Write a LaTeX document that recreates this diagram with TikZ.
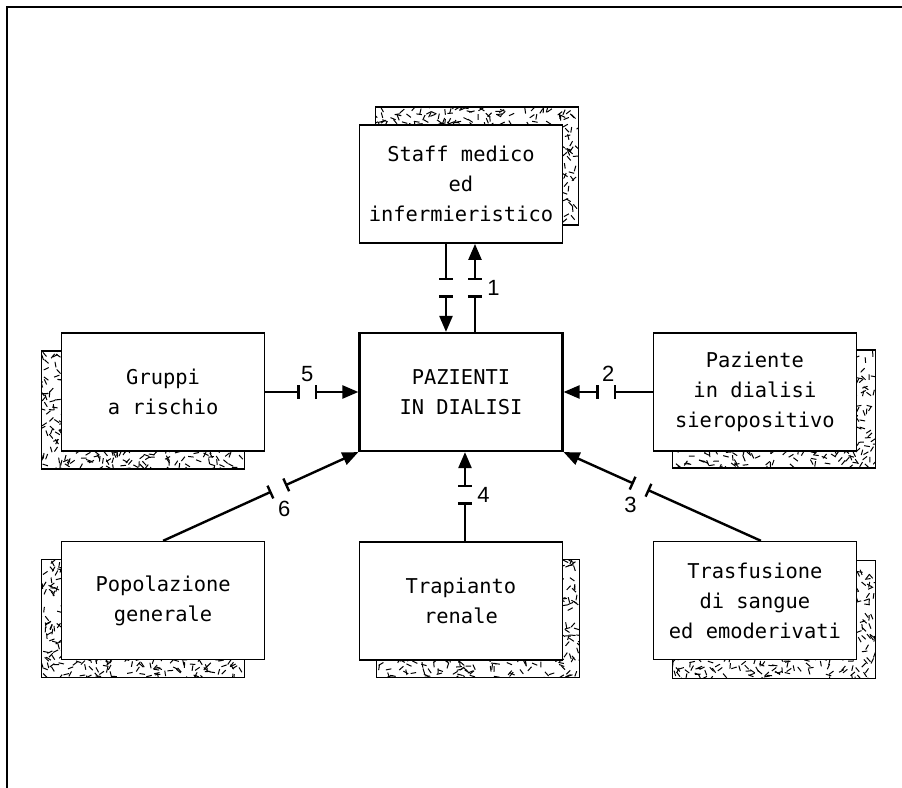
\documentclass[tikz,border=0pt]{standalone}
\usepackage{fontspec}
\setmonofont{DejaVu Sans Mono}
\newfontfamily\numfont{Liberation Sans}
\usepackage{tikz}
\usetikzlibrary{arrows.meta,positioning,calc,backgrounds}

% hatched shadow behind a box: node, x offset, y offset
\newcommand{\ombra}[3]{%
  \begin{scope}[shift={($(#1.south west)+(#2,#3)$)}]
    \begin{scope}
      \clip (0,0) rectangle (101.5,59);
      \foreach \k in {1,...,560}
        \draw[grana] ({rnd*101.5},{rnd*59}) -- ++({rand*180}:2.8);
    \end{scope}
    \draw[bordo ombra] (0,0) rectangle (101.5,59);
  \end{scope}}

% interrupted connector: from, to, gap position, gap name
\newcommand{\interrotta}[4]{%
  \coordinate (#4) at ($(#1)!#3!(#2)$);
  \draw[tronco] (#1) -- ($(#4)!3.75pt!(#1)$);
  \draw[punta] ($(#4)!3.75pt!(#2)$) -- (#2);}

\begin{document}
\begin{tikzpicture}[x=1pt, y=1pt,
  riquadro/.style={draw, line width=0.8pt, fill=white, minimum width=101.5pt,
    minimum height=59pt, align=center, inner sep=2pt,
    font=\ttfamily\fontsize{10.2}{15}\selectfont},
  centro/.style={riquadro, line width=1.1pt},
  grana/.style={line width=0.5pt},
  bordo ombra/.style={line width=0.7pt},
  tronco/.style={line width=1.2pt, -{Bar[width=7pt]}},
  punta/.style={line width=1.2pt, {Bar[width=7pt]}-{Triangle[length=8pt,width=6.5pt]}},
  num/.style={inner sep=1pt, font=\numfont\fontsize{11}{12}\selectfont},
  cornice/.style={line width=1pt}]
  \useasboundingbox (-230.5,-198) rectangle (220.5,196);
  \pgfmathsetseed{7}
  \draw[cornice] (220.5,192.5) -- (-227,192.5) -- (-227,-198);

  \node[centro] (pz) at (0,0) {PAZIENTI\\IN DIALISI};
  \node[riquadro, above=44pt of pz] (staff) {Staff medico\\ed\\infermieristico};
  \node[riquadro, left=46.5pt of pz] (gruppi) {Gruppi\\a rischio};
  \node[riquadro, right=44.5pt of pz] (siero) {Paziente\\in dialisi\\sieropositivo};
  \node[riquadro, below=44.5pt of pz] (trap) {Trapianto\\renale};
  \node[riquadro, below=44.5pt of gruppi] (pop) {Popolazione\\generale};
  \node[riquadro, below=44.5pt of siero] (trasf) {Trasfusione\\di sangue\\ed emoderivati};

  \begin{scope}[on background layer]
    \ombra{staff}{8.5}{9.5}
    \ombra{gruppi}{-9.5}{-8.5}
    \ombra{siero}{10}{-8}
    \ombra{pop}{-9.5}{-8.5}
    \ombra{trap}{9}{-8.5}
    \ombra{trasf}{10}{-9}
  \end{scope}

  \interrotta{[xshift=-7.5pt]staff.south}{[xshift=-7.5pt]pz.north}{0.5}{g0}
  \interrotta{[xshift=7pt]pz.north}{[xshift=7pt]staff.south}{0.5}{g1}
  \interrotta{siero.west}{pz.east}{0.52}{g2}
  \interrotta{[xshift=3pt]trasf.north}{pz.south east}{0.61}{g3}
  \interrotta{[xshift=2pt]trap.north}{[xshift=2pt]pz.south}{0.52}{g4}
  \interrotta{gruppi.east}{pz.west}{0.45}{g5}
  \interrotta{pop.north}{pz.south west}{0.59}{g6}

  \node[num, right=5pt] at (g1) {1};
  \node[num, above=4pt, xshift=1pt] at (g2) {2};
  \node[num, below=4pt, xshift=-5pt] at (g3) {3};
  \node[num, right=5pt] at (g4) {4};
  \node[num, above=4pt] at (g5) {5};
  \node[num, below=5pt, xshift=3pt] at (g6) {6};
\end{tikzpicture}
\end{document}
